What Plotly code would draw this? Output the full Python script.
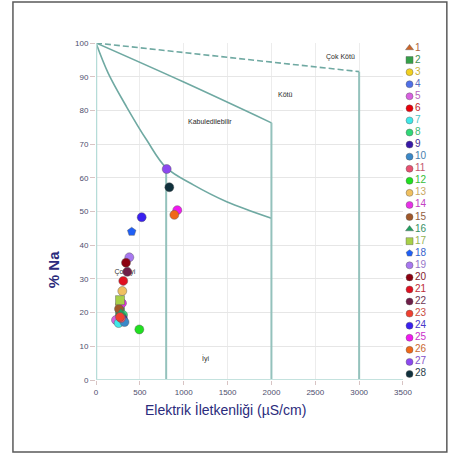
import plotly.graph_objects as go

# ---- data ----
sample_ids = list(range(1, 29))
ec_values = [262, 274, 274, 296, 228, 285, 258, 308, 308, 325, 285, 494, 300, 296,
             262, 285, 274, 407, 380, 342, 311, 357, 274, 521, 927, 893, 806, 836]
na_values = [19.0, 20.2, 22.3, 17.5, 17.8, 17.8, 16.9, 19.3, 18.1, 17.2, 18.4, 15.0, 26.4, 22.8,
             21.1, 19.9, 23.7, 44.0, 36.4, 34.8, 29.4, 32.1, 18.7, 48.3, 50.4, 49.0, 62.6, 57.2]
colors = ["#cc6428", "#34a048", "#f2d020", "#4f6fe8", "#d860e0", "#e8000a", "#40e8e8",
          "#30d878", "#3818a8", "#3a88c8", "#e85070", "#20e020", "#f0c060", "#e830e8",
          "#a0582a", "#20a060", "#a8d048", "#1f5ff5", "#a878f0", "#8c0010", "#e01020",
          "#6e1e48", "#f04030", "#3a20f0", "#f018f0", "#f06818", "#8c48f0", "#10303c"]
symbols = ["triangle-up", "square", "circle", "circle", "circle", "circle", "circle",
           "circle", "circle", "circle", "circle", "circle", "circle", "circle",
           "circle", "triangle-up", "square", "pentagon", "circle", "circle", "circle",
           "circle", "circle", "circle", "circle", "circle", "circle", "circle"]

# boundary curves (Wilcox diagram)
iyi_x = [0, 140, 350, 578, 800, 1110, 1490, 2000]
iyi_y = [100, 91, 81, 71.2, 63, 57.9, 52.9, 48]
kotu_x = [0, 1000, 2000]
kotu_y = [100, 88.4, 76.3]
cok_x = [0, 3000]
cok_y = [100, 91.5]
verticals = [(800, 63), (2000, 76.3), (3000, 91.5)]

region_labels = ["Çok Kötü", "Kötü", "Kabuledilebilir", "İyi"]
region_x = [2790, 2160, 1300, 1245]
region_y = [95.8, 84.6, 76.6, 6.5]

x_ticks = [0, 500, 1000, 1500, 2000, 2500, 3000, 3500]
y_ticks = [0, 10, 20, 30, 40, 50, 60, 70, 80, 90, 100]

line_col = "#6fa9a2"
vline_col = "#94c2bc"
navy = "#2b2b7c"


def mute(hexc, f=0.3):
    r, g, b = int(hexc[1:3], 16), int(hexc[3:5], 16), int(hexc[5:7], 16)
    r = int(r * (1 - f) + 110 * f)
    g = int(g * (1 - f) + 110 * f)
    b = int(b * (1 - f) + 110 * f)
    return f"rgb({r},{g},{b})"


fig = go.Figure()

# boundary lines
fig.add_trace(go.Scatter(x=iyi_x, y=iyi_y, mode="lines", line=dict(color=line_col, width=1.6, shape="spline"),
                         hoverinfo="skip", showlegend=False))
fig.add_trace(go.Scatter(x=kotu_x, y=kotu_y, mode="lines", line=dict(color=line_col, width=1.6, shape="spline"),
                         hoverinfo="skip", showlegend=False))
fig.add_trace(go.Scatter(x=cok_x, y=cok_y, mode="lines", line=dict(color=line_col, width=1.6, dash="6px,3px"),
                         hoverinfo="skip", showlegend=False))
for vx, vy in verticals:
    fig.add_trace(go.Scatter(x=[vx, vx], y=[0, vy], mode="lines", line=dict(color=vline_col, width=2),
                             hoverinfo="skip", showlegend=False))
# left / bottom axis lines
fig.add_trace(go.Scatter(x=[0, 0], y=[0, 100], mode="lines", line=dict(color="#b6dcd8", width=2.5),
                         hoverinfo="skip", showlegend=False))
fig.add_trace(go.Scatter(x=[0, 3500], y=[0, 0], mode="lines", line=dict(color="#c4e2de", width=2),
                         hoverinfo="skip", showlegend=False))

# "Çok iyi" label beneath the markers
fig.add_trace(go.Scatter(x=[330], y=[32], mode="text", text=["Çok iyi"],
                         textfont=dict(size=7, color="#333333", family="Arial, Liberation Sans"),
                         hoverinfo="skip", showlegend=False))

# data points
for i in range(len(sample_ids)):
    fig.add_trace(go.Scatter(x=[ec_values[i]], y=[na_values[i]], mode="markers",
                             marker=dict(symbol=symbols[i], color=colors[i], size=9,
                                         line=dict(color="rgba(90,90,90,0.55)", width=0.8)),
                             name=str(sample_ids[i]), showlegend=False))

# manual legend on a hidden side axis
fig.add_trace(go.Scatter(x=[5] * len(sample_ids), y=sample_ids, mode="markers+text",
                         text=[str(s) for s in sample_ids], textposition="middle right",
                         textfont=dict(size=10, color=[mute(c) for c in colors], family="Arial, Liberation Sans"),
                         marker=dict(symbol=symbols, color=colors, size=7,
                                     line=dict(color="rgba(90,90,90,0.6)", width=0.7)),
                         xaxis="x2", yaxis="y2", hoverinfo="skip", showlegend=False))

for lab, lx, ly in zip(region_labels, region_x, region_y):
    fig.add_annotation(x=lx, y=ly, text=lab, showarrow=False,
                       font=dict(size=7, color="#2a2a2a", family="Arial, Liberation Sans"))

fig.add_annotation(xref="paper", yref="paper", x=-0.12, y=0.326, xanchor="center", yanchor="middle",
                   text="<b>% Na</b>", textangle=-90,
                   showarrow=False, font=dict(size=15, color=navy, family="Arial, Liberation Sans"))
fig.add_annotation(xref="paper", yref="paper", x=0.363, y=-0.089, xanchor="center", yanchor="middle",
                   text="Elektrik İletkenliği (µS/cm)",
                   showarrow=False, font=dict(size=14, color=navy, family="Arial, Liberation Sans"))

# outer frame
fig.add_shape(type="rect", xref="paper", yref="paper", x0=-0.232, x1=0.98, y0=-0.2136, y1=1.1217,
              line=dict(color="#5a5a5a", width=1.5), fillcolor="rgba(0,0,0,0)", layer="below")

axis_font = dict(size=8, color="#4e4e6e", family="Arial, Liberation Sans")
fig.update_layout(
    width=454, height=456,
    margin=dict(l=96, r=0, t=43, b=76, autoexpand=False),
    paper_bgcolor="white", plot_bgcolor="white",
    showlegend=False,
    xaxis=dict(domain=[0, 0.8575], range=[0, 3500], tickvals=x_ticks, showgrid=True, gridcolor="#ececec",
               gridwidth=1, zeroline=False, showline=False, ticks="outside", ticklen=4, tickcolor="#d8c4c4",
               tickfont=axis_font, fixedrange=True, automargin=False),
    yaxis=dict(range=[0, 100], tickvals=y_ticks, showgrid=True, gridcolor="#e6e6e6", gridwidth=1,
               zeroline=False, showline=False, ticks="outside", ticklen=5, tickcolor="#d8c4c4",
               tickfont=axis_font, fixedrange=True, automargin=False),
    xaxis2=dict(domain=[0.862, 1], range=[0, 50], visible=False, fixedrange=True, automargin=False),
    yaxis2=dict(anchor="x2", domain=[0, 1], range=[28.5, 0.586], visible=False, fixedrange=True,
                automargin=False),
)

fig.write_html("out.html")
